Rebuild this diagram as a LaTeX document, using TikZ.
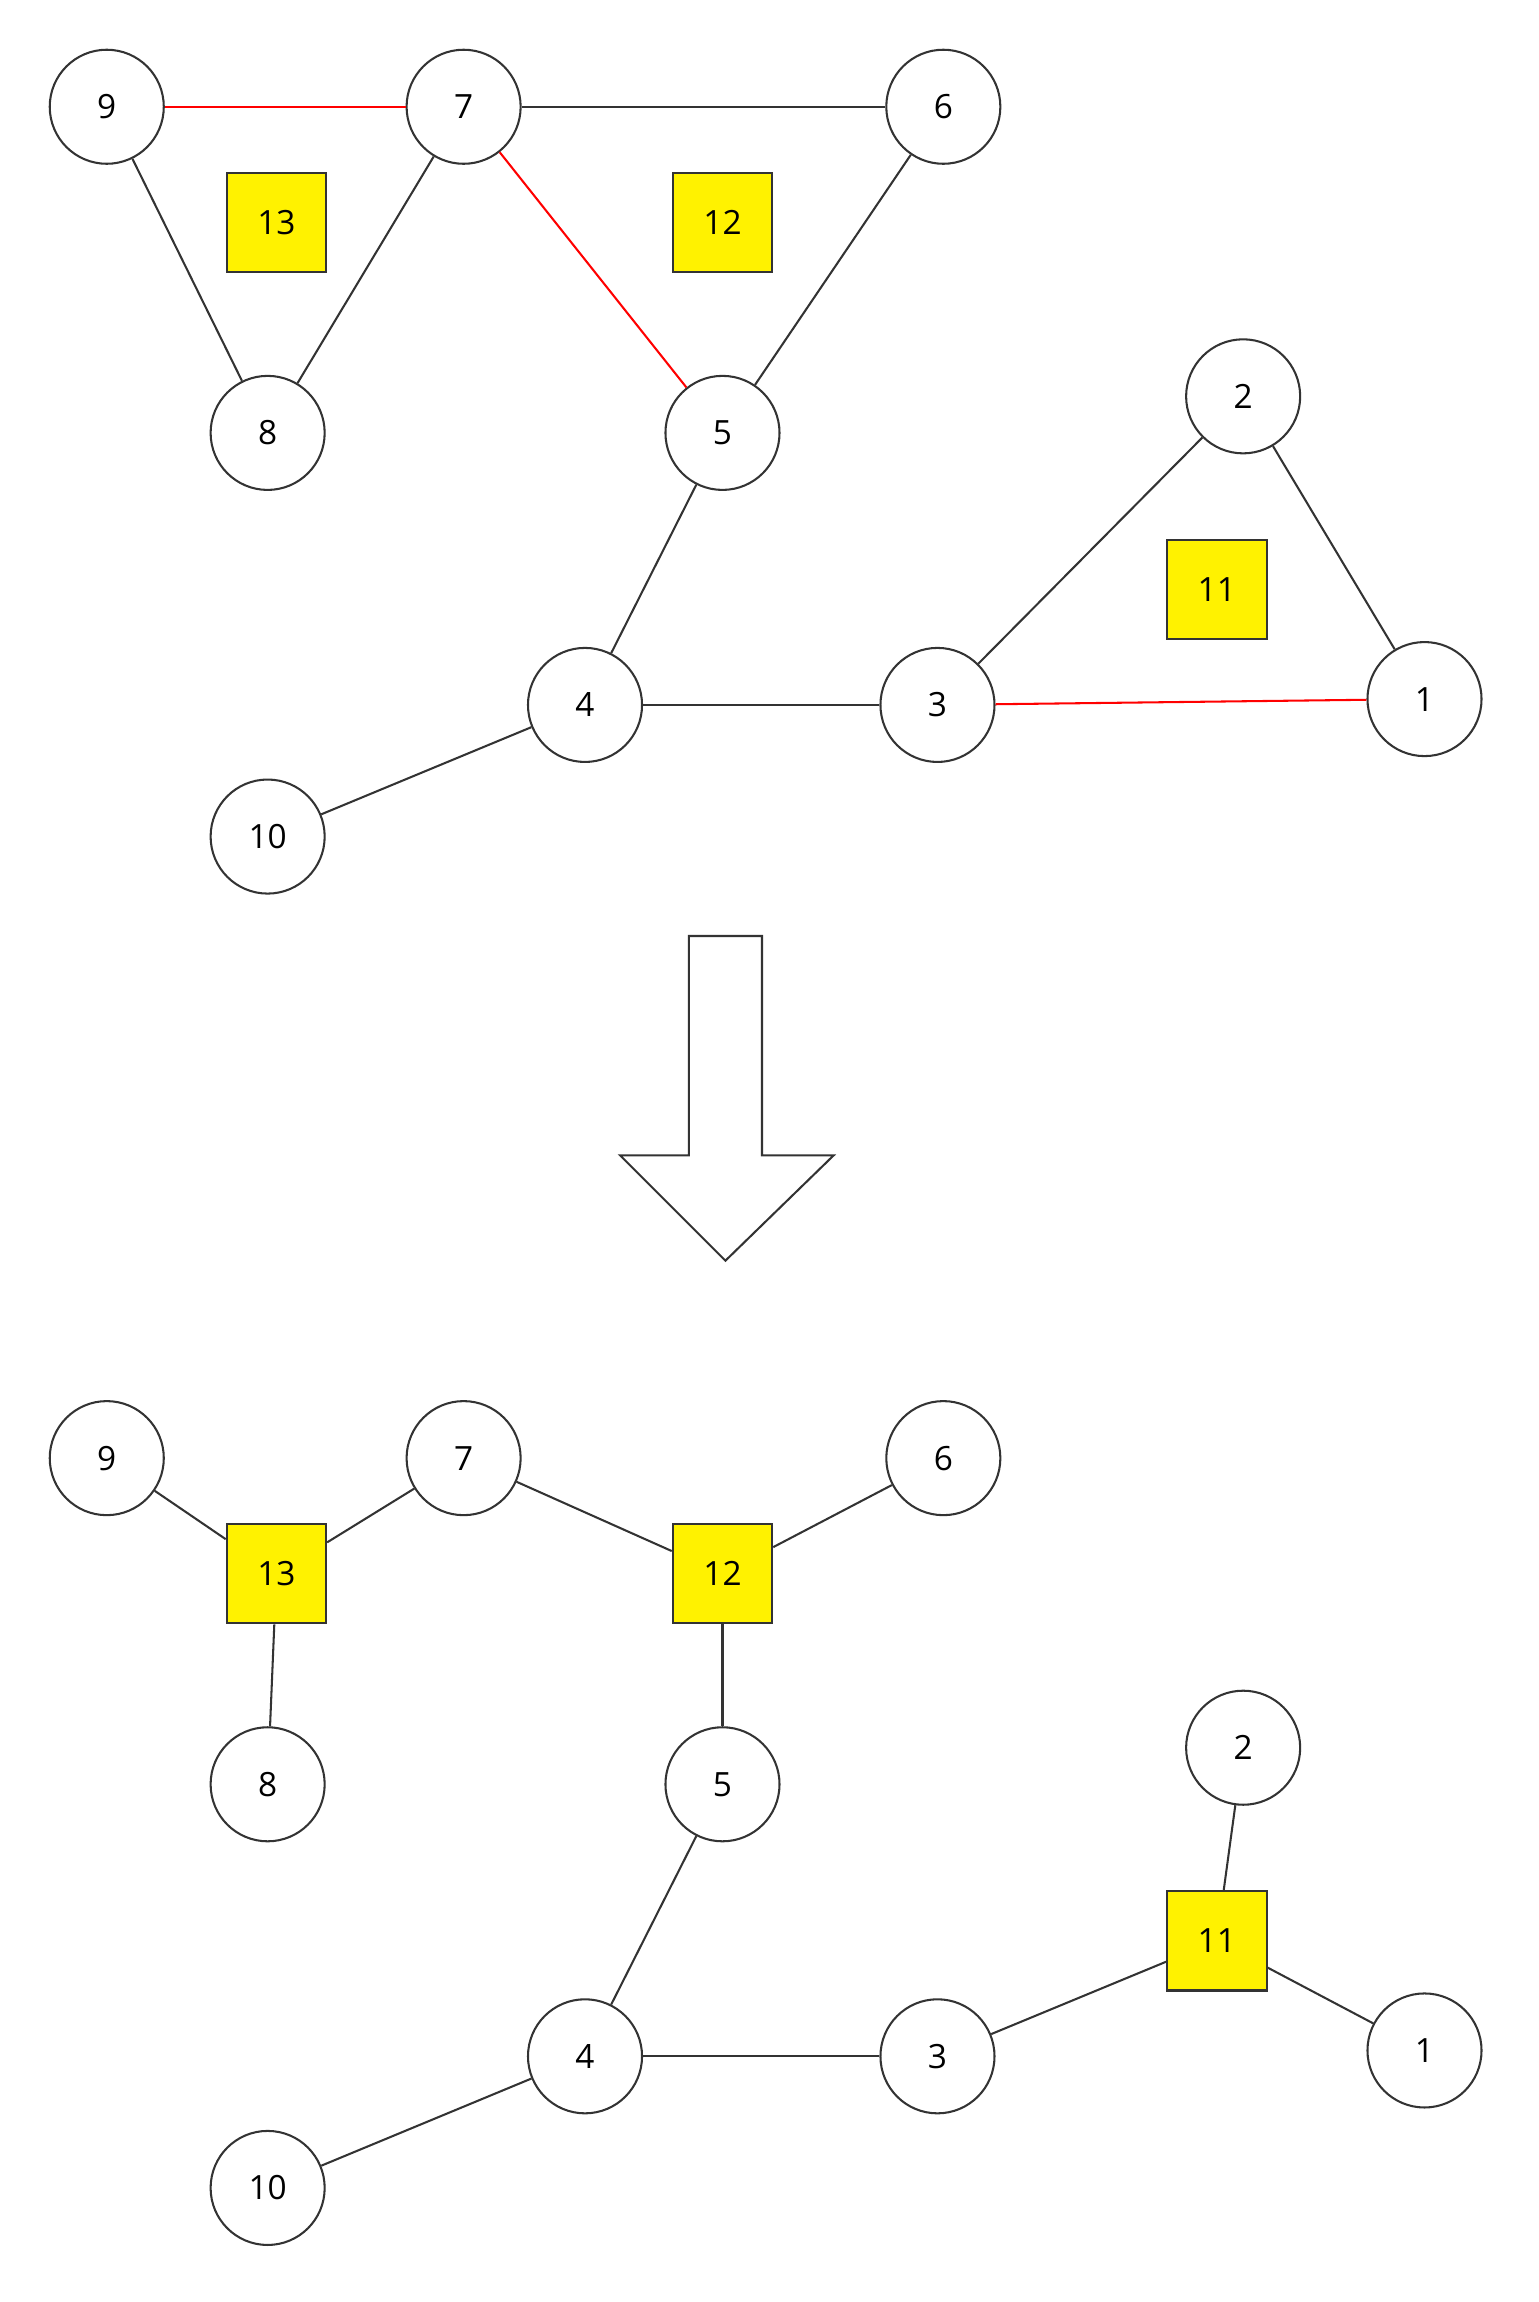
\documentclass[tikz,border=0pt]{standalone}
\usepackage{fontspec}
\setmainfont{Open Sans}
\usetikzlibrary{calc}
\tikzset{
  vtx/.style={circle,draw=black!80,thick,minimum size=1.56cm,inner sep=0pt,font=\fontsize{13}{15}\selectfont},
  face/.style={rectangle,draw=black!80,thick,fill=yellow,minimum size=1.36cm,inner sep=0pt,font=\fontsize{13}{15}\selectfont},
  edge/.style={draw=black!80,thick},
  cut/.style={draw=red,thick}
}
\begin{document}
\begin{tikzpicture}[x=0.02cm,y=-0.02cm]
  \useasboundingbox (0,0) rectangle (1052,1574);
  % Draw the original graph
  \def\graph#1#2{
    \node [vtx] (#1v9) at (73,73+#2) {9};
    \node [vtx] (#1v7) at (317,73+#2) {7};
    \node [vtx] (#1v6) at (645,73+#2) {6};
    \node [face] (#1f13) at (189,152+#2) {13};
    \node [face] (#1f12) at (494,152+#2) {12};
    \node [vtx] (#1v8) at (183,296+#2) {8};
    \node [vtx] (#1v5) at (494,296+#2) {5};
    \node [vtx] (#1v2) at (850,271+#2) {2};
    \node [face] (#1f11) at (832,403+#2) {11};
    \node [vtx] (#1v4) at (400,482+#2) {4};
    \node [vtx] (#1v3) at (641,482+#2) {3};
    \node [vtx] (#1v1) at (974,478+#2) {1};
    \node [vtx] (#1v10) at (183,572+#2) {10};
    \foreach \a/\b in {5/4,4/3,4/10}
      \draw [edge] (#1v\a) -- (#1v\b);
  }
  \graph{a}{0}
  \graph{b}{924}
  % Edges of the upper graph
  \foreach \a/\b in {9/8,8/7,7/6,6/5,3/2,2/1}
    \draw [edge] (av\a) -- (av\b);
  \foreach \a/\b in {9/7,7/5,3/1}
    \draw [cut] (av\a) -- (av\b);
  % Edges of the dual tree
  \draw [edge] (bv9) -- (bf13);
  \draw [edge] (bf13) -- (bv7);
  \draw [edge] (bf13) -- (bv8);
  \draw [edge] (bv7) -- (bf12);
  \draw [edge] (bf12) -- (bv6);
  \draw [edge] (bf12) -- (bv5);
  \draw [edge] (bv3) -- (bf11);
  \draw [edge] (bf11) -- (bv2);
  \draw [edge] (bf11) -- (bv1);
  % Big arrow
  \draw [edge] (471,640) -- (521,640) -- (521,790) -- (570,790) -- (496,862)
    -- (424,790) -- (471,790) -- cycle;
\end{tikzpicture}
\end{document}
